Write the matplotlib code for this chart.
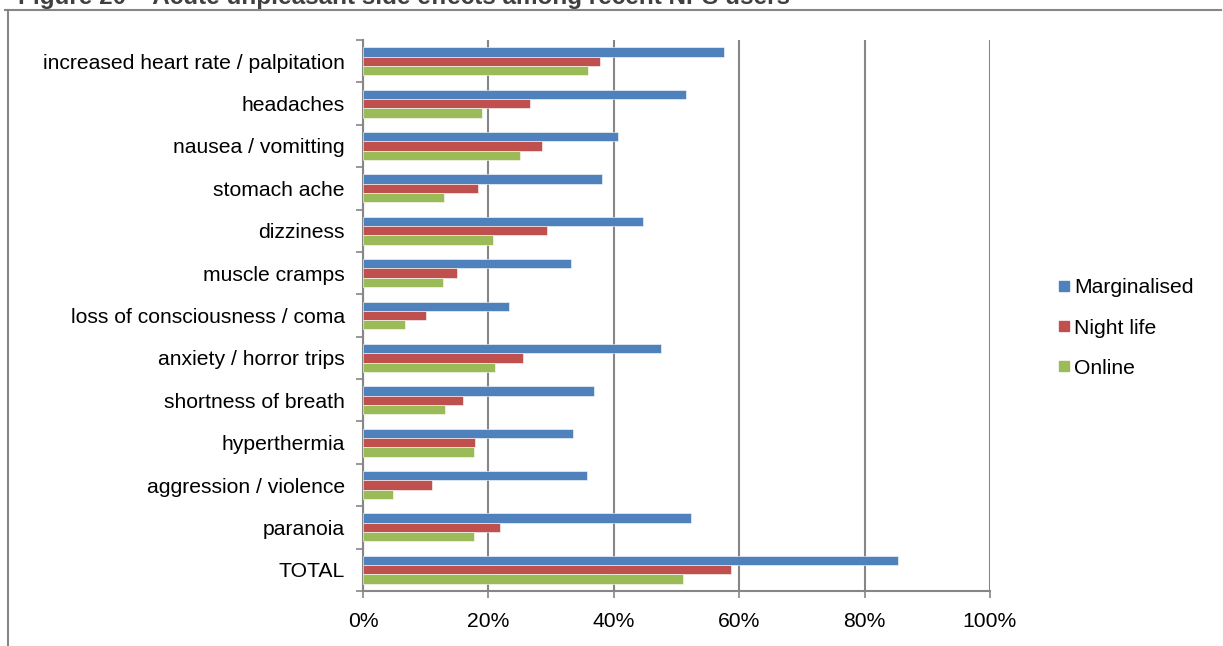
import numpy as np
import matplotlib
matplotlib.use("Agg")
import matplotlib.pyplot as plt
from matplotlib.lines import Line2D
from matplotlib.ticker import PercentFormatter

plt.rcParams['font.family'] = ['Liberation Sans', 'DejaVu Sans']

effects = ["increased heart rate / palpitation", "headaches", "nausea / vomitting",
           "stomach ache", "dizziness", "muscle cramps", "loss of consciousness / coma",
           "anxiety / horror trips", "shortness of breath", "hyperthermia",
           "aggression / violence", "paranoia", "TOTAL"]
marginalised = [57.6, 51.5, 40.7, 38.1, 44.7, 33.2, 23.3, 47.6, 36.8, 33.5, 35.7, 52.3, 85.3]
night_life = [37.8, 26.6, 28.5, 18.3, 29.3, 15.0, 10.0, 25.5, 15.9, 17.8, 11.0, 21.9, 58.7]
online = [35.9, 19.0, 25.0, 12.9, 20.8, 12.8, 6.7, 21.1, 13.1, 17.7, 4.8, 17.7, 51.0]

series = [("Marginalised", marginalised, "#4F81BD"),
          ("Night life", night_life, "#C0504D"),
          ("Online", online, "#9BBB59")]

grey = "#868686"
fs = 15.2

fig = plt.figure(figsize=(12.23, 6.46), dpi=100)
ax = fig.add_axes([363 / 1223, 1 - 591 / 646, 627 / 1223, 551 / 646])

n = len(effects)
y = np.arange(n)[::-1]
h = 0.22
for i, (name, vals, col) in enumerate(series):
    ax.barh(y + (1 - i) * h, np.array(vals) / 100, height=h, color=col,
            edgecolor="white", linewidth=0.4, label=name, zorder=3)

ax.set_xlim(0, 1)
ax.set_ylim(-0.5, n - 0.5)
ax.set_xticks(np.arange(0, 1.01, 0.2))
ax.xaxis.set_major_formatter(PercentFormatter(1.0, decimals=0))
ax.set_yticks(y)
ax.set_yticklabels(effects)
ax.set_yticks(np.arange(-0.5, n, 1), minor=True)
ax.tick_params(axis="y", which="major", length=0, pad=13, labelsize=fs)
ax.tick_params(axis="y", which="minor", length=5, width=1.2, color=grey)
ax.tick_params(axis="x", length=5, width=1.2, color=grey, pad=10, labelsize=fs)
ax.grid(axis="x", color=grey, linewidth=1.5, zorder=0)
for s in ["top", "right"]:
    ax.spines[s].set_visible(False)
for s in ["left", "bottom"]:
    ax.spines[s].set_color(grey)
    ax.spines[s].set_linewidth(1.5)

handles = [Line2D([], [], marker="s", linestyle="none", markersize=7.5,
                  markerfacecolor=c, markeredgecolor=c) for _, _, c in series]
fig.legend(handles, [s[0] for s in series], loc="center left",
           bbox_to_anchor=(1053 / 1223, 1 - 328 / 646), frameon=False,
           fontsize=fs, handletextpad=0.0, labelspacing=1.0, handlelength=1.0,
           borderaxespad=0, borderpad=0)

# outer chart frame (top and left edges only)
fig.add_artist(Line2D([5 / 1223, 1221 / 1223], [1 - 10 / 646] * 2,
                      color=grey, linewidth=1.5, transform=fig.transFigure))
fig.add_artist(Line2D([8 / 1223, 8 / 1223], [1 - 10 / 646, 0],
                      color=grey, linewidth=1.5, transform=fig.transFigure))

fig.text(18 / 1223, 1 - 4 / 646, "Figure 20 – Acute unpleasant side effects among recent NPS users",
         fontsize=17.5, fontweight="bold", color="#404040", ha="left", va="baseline")

fig.savefig("out.png", dpi=100, facecolor="white")
